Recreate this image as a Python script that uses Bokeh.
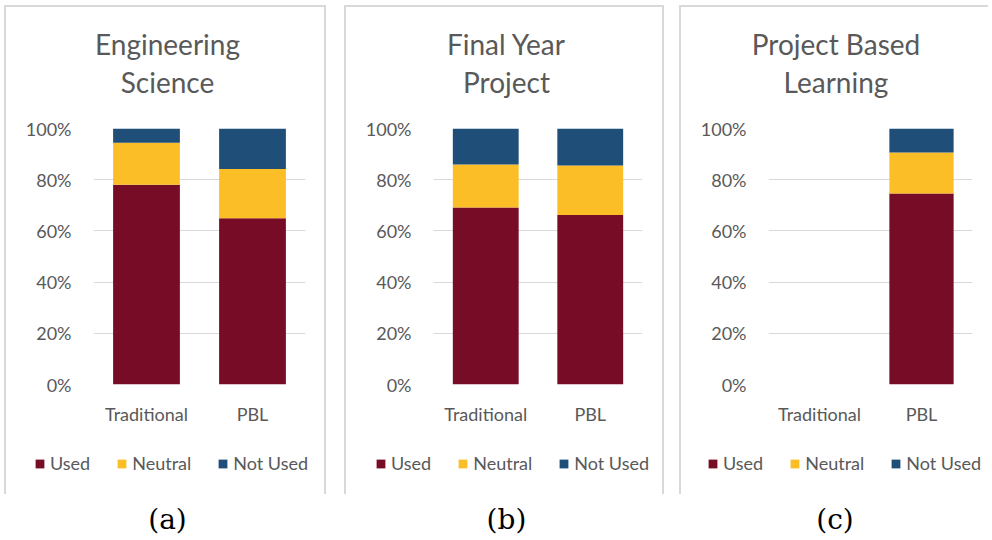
from bokeh.plotting import figure
from bokeh.layouts import row, column
from bokeh.models import (Legend, LegendItem, FixedTicker, NumeralTickFormatter,
                          Range1d, ColumnDataSource)
from bokeh.core.properties import value
from bokeh.embed import file_html
from bokeh.resources import INLINE

categories = ["Traditional", "PBL"]
series = ["Used", "Neutral", "Not Used"]
colors = ["#770C27", "#FCBE26", "#1F4E79"]

eng_used = [0.780, 0.649]
eng_neutral = [0.164, 0.193]
eng_not_used = [0.056, 0.158]

fyp_used = [0.691, 0.662]
fyp_neutral = [0.168, 0.193]
fyp_not_used = [0.141, 0.145]

pbl_used = [0.0, 0.746]
pbl_neutral = [0.0, 0.160]
pbl_not_used = [0.0, 0.094]

titles = [["Engineering", "Science"], ["Final Year", "Project"], ["Project Based", "Learning"]]
captions = ["(a)", "(b)", "(c)"]
y_ticks = [0, 0.2, 0.4, 0.6, 0.8, 1.0]

GRAY = "#595959"
FONT = "Lato"
BC = "#d9d9d9"
B = "2px solid " + BC
HEAD_H = 111
CHART_H = 312
FOOT_H = 66
CAP_H = 42


def bare(w, h, yr=(0, 1)):
    f = figure(width=w, height=h, x_range=Range1d(0, 1), y_range=Range1d(*yr),
               x_axis_type=None, y_axis_type=None, min_border=0, title=None,
               output_backend="svg", toolbar_location=None)
    f.frame_align = False
    f.grid.grid_line_color = None
    f.outline_line_color = None
    return f


def panel(title_lines, used, neutral, not_used, w, fw, leg_x, caption, right_border=True):
    side = {"border-left": B}
    if right_border:
        side["border-right"] = B
    outer_w = w + (4 if right_border else 2)

    # header with the two-line title
    head = bare(w, HEAD_H, (0, HEAD_H))
    head.text(x=[0.5, 0.5], y=[75, 37], text=title_lines, text_align="center",
              text_baseline="alphabetic", text_font=value(FONT), text_font_size="28px",
              text_color=GRAY)
    head.styles = dict(side, **{"border-top": B})

    # the chart itself
    src = ColumnDataSource(dict(cat=categories, Used=used, Neutral=neutral, NotUsed=not_used))
    left = 87
    p = figure(x_range=categories, y_range=Range1d(0, 1), width=w, height=CHART_H,
               min_border_left=left, min_border_right=w - left - fw, min_border_top=12,
               min_border_bottom=CHART_H - 12 - 256, title=None, output_backend="svg",
               toolbar_location=None)
    p.frame_align = False
    p.vbar_stack(["Used", "Neutral", "NotUsed"], x="cat", width=0.63, source=src,
                 fill_color=colors, line_color=None)
    p.yaxis.ticker = FixedTicker(ticks=y_ticks)
    p.yaxis.formatter = NumeralTickFormatter(format="0%")
    for ax in (p.xaxis, p.yaxis):
        ax.axis_line_color = None
        ax.major_tick_line_color = None
        ax.minor_tick_line_color = None
        ax.major_label_text_font = FONT
        ax.major_label_text_font_size = "18px"
        ax.major_label_text_color = GRAY
    p.yaxis.major_label_standoff = 16
    p.xaxis.major_label_standoff = 12
    p.xgrid.grid_line_color = None
    p.ygrid.grid_line_color = BC
    p.outline_line_color = None
    p.styles = dict(side)

    # footer with the legend (swatches are single hidden squares in the footer's own plot)
    foot = bare(w, FOOT_H)
    swatches = [foot.rect(x=[-5], y=[-5], width=0.1, height=0.1, fill_color=c, line_color=None)
                for c in colors]
    legend = Legend(items=[LegendItem(label=s, renderers=[r]) for s, r in zip(series, swatches)],
                    orientation="horizontal", location=(leg_x, 20), glyph_width=11,
                    glyph_height=11, label_height=22, label_standoff=5, spacing=26,
                    label_text_font=FONT, label_text_font_size="18px",
                    label_text_color=GRAY, border_line_color=None,
                    background_fill_alpha=0, padding=0, margin=0)
    foot.add_layout(legend)
    foot.styles = dict(side)

    cap = bare(outer_w, CAP_H, (0, CAP_H))
    cap.text(x=[0.5], y=[17], text=[caption], text_align="center", text_baseline="middle",
             text_font=value("DejaVu Serif"), text_font_size="28px", text_color="black")
    return [head, p, foot, cap]


pa = panel(titles[0], eng_used, eng_neutral, eng_not_used, 322, 212, 28, captions[0])
pb = panel(titles[1], fyp_used, fyp_neutral, fyp_not_used, 320, 209, 29, captions[1])
pc = panel(titles[2], pbl_used, pbl_neutral, pbl_not_used, 309, 204, 26, captions[2],
           right_border=False)

layout = row(column(*pa, spacing=0, margin=(5, 0, 0, 4)),
             column(*pb, spacing=0, margin=(5, 0, 0, 14)),
             column(*pc, spacing=0, margin=(5, 0, 0, 11)),
             spacing=0)

open("out.html", "w").write(file_html(layout, INLINE))
